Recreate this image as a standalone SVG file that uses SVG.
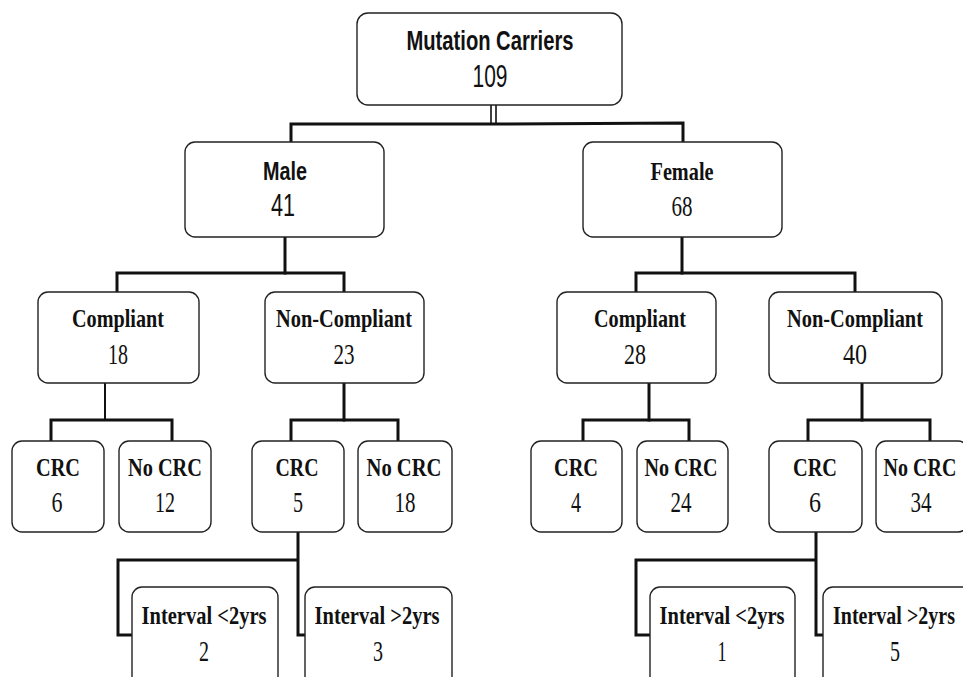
<svg xmlns="http://www.w3.org/2000/svg" width="963" height="677" viewBox="0 0 963 677">
<style>
.box{fill:#fff;stroke:#222;stroke-width:1.4}
.c{fill:none;stroke:#111;stroke-width:3;stroke-linecap:square}
.t{fill:#111;text-anchor:middle}
.ss{font-family:"Liberation Sans",Arial,sans-serif}
.sf{font-family:"Liberation Serif","Times New Roman",serif}
.lb{font-weight:bold;font-size:26px}
.nm{font-size:30px}
</style>
<rect width="963" height="677" fill="#fff"/>
<g id="connectors">
<line x1="491" y1="105" x2="491" y2="123" stroke="#111" stroke-width="1.6"/>
<line x1="496" y1="105" x2="496" y2="123" stroke="#111" stroke-width="1.6"/>
<polyline class="c" points="291,142 291,124 494,124 683,123 683,142"/>
<polyline class="c" points="285,237 285,273"/>
<polyline class="c" points="117,292 117,273 344,273 344,292"/>
<polyline class="c" points="682,237 682,273"/>
<polyline class="c" points="636,292 636,273 855,273 855,292"/>
<line class="c" x1="105" y1="383" x2="105" y2="420" style="stroke-width:2"/>
<polyline class="c" points="51,441 51,420 172,420 172,441"/>
<line class="c" x1="344" y1="383" x2="344" y2="420"/>
<polyline class="c" points="291,441 291,420 398,420 398,441"/>
<line class="c" x1="649" y1="383" x2="649" y2="420"/>
<polyline class="c" points="583,441 583,420 689,420 689,441"/>
<line class="c" x1="862" y1="383" x2="862" y2="420"/>
<polyline class="c" points="808,441 808,420 930,420 930,441"/>
<polyline class="c" points="298,532 298,635 305,635" style="stroke-linecap:butt"/>
<polyline class="c" points="298,560 118,560 118,635 132,635" style="stroke-linecap:butt"/>
<polyline class="c" points="816,532 816,635 823,635" style="stroke-linecap:butt"/>
<polyline class="c" points="816,560 636,560 636,635 650,635" style="stroke-linecap:butt"/>
</g>
<g id="n-root"><rect class="box" x="357" y="13" width="265" height="92" rx="11"/>
<text class="t ss" x="490" y="50" font-size="28" font-weight="bold" textLength="167" lengthAdjust="spacingAndGlyphs">Mutation Carriers</text>
<text class="t ss" x="490" y="87" font-size="31" textLength="35" lengthAdjust="spacingAndGlyphs">109</text></g>
<g id="n-male"><rect class="box" x="185" y="142" width="199" height="95" rx="10"/>
<text class="t ss" x="285" y="180" font-size="26" font-weight="bold" textLength="44" lengthAdjust="spacingAndGlyphs">Male</text>
<text class="t ss" x="283" y="216" font-size="32" textLength="24" lengthAdjust="spacingAndGlyphs">41</text></g>
<g id="n-female"><rect class="box" x="583" y="142" width="199" height="95" rx="10"/>
<text class="t sf lb" x="682" y="180" font-size="27" textLength="63" lengthAdjust="spacingAndGlyphs">Female</text>
<text class="t sf nm" x="682" y="216" textLength="21" lengthAdjust="spacingAndGlyphs">68</text></g>
<g id="n-m-comp"><rect class="box" x="38" y="292" width="161" height="91" rx="10"/>
<text class="t sf lb" x="118" y="327" textLength="92" lengthAdjust="spacingAndGlyphs">Compliant</text>
<text class="t sf nm" x="118" y="364" textLength="20" lengthAdjust="spacingAndGlyphs">18</text></g>
<g id="n-m-noncomp"><rect class="box" x="265" y="292" width="159" height="91" rx="10"/>
<text class="t sf lb" x="344" y="327" textLength="136" lengthAdjust="spacingAndGlyphs">Non-Compliant</text>
<text class="t sf nm" x="344" y="364" textLength="21" lengthAdjust="spacingAndGlyphs">23</text></g>
<g id="n-f-comp"><rect class="box" x="557" y="292" width="159" height="91" rx="10"/>
<text class="t sf lb" x="640" y="327" textLength="92" lengthAdjust="spacingAndGlyphs">Compliant</text>
<text class="t sf nm" x="635" y="364" textLength="22" lengthAdjust="spacingAndGlyphs">28</text></g>
<g id="n-f-noncomp"><rect class="box" x="769" y="292" width="173" height="91" rx="10"/>
<text class="t sf lb" x="855" y="327" textLength="136" lengthAdjust="spacingAndGlyphs">Non-Compliant</text>
<text class="t sf nm" x="855" y="364" textLength="24" lengthAdjust="spacingAndGlyphs">40</text></g>
<g id="n-mc-crc"><rect class="box" x="12" y="441" width="92" height="91" rx="10"/>
<text class="t sf lb" x="58" y="476" textLength="44" lengthAdjust="spacingAndGlyphs">CRC</text>
<text class="t sf nm" x="57" y="512" textLength="11" lengthAdjust="spacingAndGlyphs">6</text></g>
<g id="n-mc-nocrc"><rect class="box" x="119" y="441" width="92" height="91" rx="10"/>
<text class="t sf lb" x="165" y="476" textLength="74" lengthAdjust="spacingAndGlyphs">No CRC</text>
<text class="t sf nm" x="165" y="512" textLength="20" lengthAdjust="spacingAndGlyphs">12</text></g>
<g id="n-mn-crc"><rect class="box" x="252" y="441" width="92" height="91" rx="10"/>
<text class="t sf lb" x="297" y="476" textLength="43" lengthAdjust="spacingAndGlyphs">CRC</text>
<text class="t sf nm" x="298" y="512" textLength="10" lengthAdjust="spacingAndGlyphs">5</text></g>
<g id="n-mn-nocrc"><rect class="box" x="358" y="441" width="94" height="91" rx="10"/>
<text class="t sf lb" x="404" y="476" textLength="75" lengthAdjust="spacingAndGlyphs">No CRC</text>
<text class="t sf nm" x="405" y="512" textLength="21" lengthAdjust="spacingAndGlyphs">18</text></g>
<g id="n-fc-crc"><rect class="box" x="531" y="441" width="91" height="91" rx="10"/>
<text class="t sf lb" x="576" y="476" textLength="44" lengthAdjust="spacingAndGlyphs">CRC</text>
<text class="t sf nm" x="576" y="512" textLength="10" lengthAdjust="spacingAndGlyphs">4</text></g>
<g id="n-fc-nocrc"><rect class="box" x="637" y="441" width="91" height="91" rx="10"/>
<text class="t sf lb" x="681" y="476" textLength="73" lengthAdjust="spacingAndGlyphs">No CRC</text>
<text class="t sf nm" x="681" y="512" textLength="21" lengthAdjust="spacingAndGlyphs">24</text></g>
<g id="n-fn-crc"><rect class="box" x="769" y="441" width="93" height="91" rx="10"/>
<text class="t sf lb" x="815" y="476" textLength="44" lengthAdjust="spacingAndGlyphs">CRC</text>
<text class="t sf nm" x="815" y="512" textLength="12" lengthAdjust="spacingAndGlyphs">6</text></g>
<g id="n-fn-nocrc"><rect class="box" x="876" y="441" width="92" height="91" rx="10"/>
<text class="t sf" transform="translate(920,476) scale(1,1.3)" font-size="20" font-weight="bold">No CRC</text>
<text class="t sf nm" x="921" y="512" textLength="21" lengthAdjust="spacingAndGlyphs">34</text></g>
<g id="n-m-lt2"><rect class="box" x="132" y="587" width="146" height="110" rx="10"/>
<text class="t sf lb" x="204" y="624" textLength="125" lengthAdjust="spacingAndGlyphs">Interval &lt;2yrs</text>
<text class="t sf nm" x="204" y="661" textLength="10" lengthAdjust="spacingAndGlyphs">2</text></g>
<g id="n-m-gt2"><rect class="box" x="305" y="587" width="147" height="110" rx="10"/>
<text class="t sf lb" x="377" y="624" textLength="125" lengthAdjust="spacingAndGlyphs">Interval &gt;2yrs</text>
<text class="t sf nm" x="378" y="661" textLength="10" lengthAdjust="spacingAndGlyphs">3</text></g>
<g id="n-f-lt2"><rect class="box" x="650" y="587" width="145" height="110" rx="10"/>
<text class="t sf lb" x="722" y="624" textLength="125" lengthAdjust="spacingAndGlyphs">Interval &lt;2yrs</text>
<text class="t sf nm" x="722" y="661" textLength="9" lengthAdjust="spacingAndGlyphs">1</text></g>
<g id="n-f-gt2"><rect class="box" x="823" y="587" width="150" height="110" rx="10"/>
<text class="t sf" transform="translate(894,624) scale(1,1.3)" font-size="20" font-weight="bold">Interval &gt;2yrs</text>
<text class="t sf nm" x="895" y="661" textLength="10" lengthAdjust="spacingAndGlyphs">5</text></g>
</svg>
